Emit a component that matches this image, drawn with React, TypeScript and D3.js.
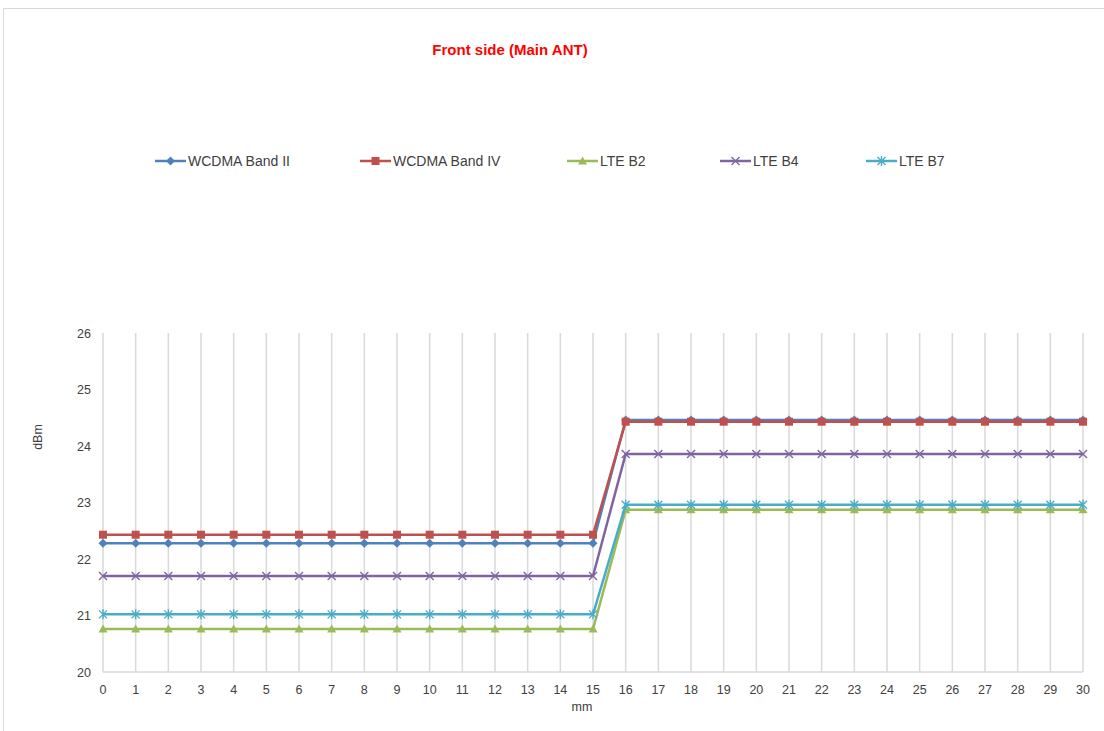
import React from "react";
import * as d3 from "d3";

const xs: number[] = d3.range(0, 31);
const seriesNames = ["WCDMA Band II", "WCDMA Band IV", "LTE B2", "LTE B4", "LTE B7"];
const seriesColors = ["#4F81BD", "#C0504D", "#9BBB59", "#8064A2", "#4BACC6"];
const seriesMarkers = ["diamond", "square", "triangle", "x", "star"];
const lowValues = [22.28, 22.43, 20.76, 21.7, 21.02];
const highValues = [24.46, 24.43, 22.87, 23.86, 22.96];
const stepAt = 16;
const yTicks = [20, 21, 22, 23, 24, 25, 26];

const W = 1104, H = 731;
const x = d3.scaleLinear().domain([0, 30]).range([103, 1083]);
const y = d3.scaleLinear().domain([20, 26]).range([672, 333]);

function valuesFor(i: number): number[] {
  return xs.map((v) => (v < stepAt ? lowValues[i] : highValues[i]));
}

function Marker({ kind, cx, cy, color }: { kind: string; cx: number; cy: number; color: string }) {
  if (kind === "diamond") {
    const s = 4.5;
    return <path d={`M${cx},${cy - s}L${cx + s},${cy}L${cx},${cy + s}L${cx - s},${cy}Z`} fill={color} />;
  }
  if (kind === "square") {
    return <rect x={cx - 4} y={cy - 4} width={8} height={8} fill={color} />;
  }
  if (kind === "triangle") {
    return <path d={`M${cx},${cy - 4.5}L${cx + 4.5},${cy + 3.5}L${cx - 4.5},${cy + 3.5}Z`} fill={color} />;
  }
  if (kind === "x") {
    const s = 4;
    return (
      <path d={`M${cx - s},${cy - s}L${cx + s},${cy + s}M${cx - s},${cy + s}L${cx + s},${cy - s}`} stroke={color} strokeWidth={1.4} fill="none" />
    );
  }
  const s = 4;
  return (
    <path
      d={`M${cx - s},${cy - s}L${cx + s},${cy + s}M${cx - s},${cy + s}L${cx + s},${cy - s}M${cx},${cy - s - 1}L${cx},${cy + s + 1}`}
      stroke={color}
      strokeWidth={1.4}
      fill="none"
    />
  );
}

export default function App() {
  const line = d3
    .line<number>()
    .x((_, i) => x(xs[i]))
    .y((d) => y(d));
  const legendX = [155, 360, 567, 720, 866];
  const font = "Liberation Sans, Arial, sans-serif";
  return (
    <svg width={W} height={H} style={{ position: "absolute", left: 0, top: 0 }} fontFamily={font}>
      <rect x={0} y={0} width={W} height={H} fill="#fff" />
      <rect x={3.5} y={8.5} width={W + 10} height={H + 10} fill="#fff" stroke="#d9d9d9" />
      <text x={510} y={55} textAnchor="middle" fill="#FF0000" fontWeight="bold" fontSize={15}>
        Front side (Main ANT)
      </text>
      {seriesNames.map((n, i) => (
        <g key={n}>
          <line x1={legendX[i]} x2={legendX[i] + 31} y1={161} y2={161} stroke={seriesColors[i]} strokeWidth={2.5} />
          <Marker kind={seriesMarkers[i]} cx={legendX[i] + 15.5} cy={161} color={seriesColors[i]} />
          <text x={legendX[i] + 33} y={166} fontSize={14} fill="#404040">
            {n}
          </text>
        </g>
      ))}
      {xs.map((v) => (
        <line key={v} x1={x(v)} x2={x(v)} y1={y(26)} y2={y(20)} stroke="#d9d9d9" strokeWidth={1.5} />
      ))}
      <line x1={x(0)} x2={x(30)} y1={y(20)} y2={y(20)} stroke="#d9d9d9" strokeWidth={1.5} />
      {yTicks.map((t) => (
        <text key={t} x={91} y={y(t) + 4.5} textAnchor="end" fontSize={12.5} fill="#404040">
          {t}
        </text>
      ))}
      {xs.map((v) => (
        <text key={v} x={x(v)} y={694} textAnchor="middle" fontSize={12.5} fill="#404040">
          {v}
        </text>
      ))}
      <text x={582} y={711} textAnchor="middle" fontSize={12.5} fill="#404040">
        mm
      </text>
      <text transform={`translate(42,437) rotate(-90)`} textAnchor="middle" fontSize={12.5} fill="#404040">
        dBm
      </text>
      {seriesNames.map((n, i) => {
        const vals = valuesFor(i);
        return (
          <g key={n}>
            <path d={line(vals) || ""} fill="none" stroke={seriesColors[i]} strokeWidth={2.5} strokeLinejoin="round" />
            {vals.map((v, j) => (
              <Marker key={j} kind={seriesMarkers[i]} cx={x(xs[j])} cy={y(v)} color={seriesColors[i]} />
            ))}
          </g>
        );
      })}
    </svg>
  );
}
